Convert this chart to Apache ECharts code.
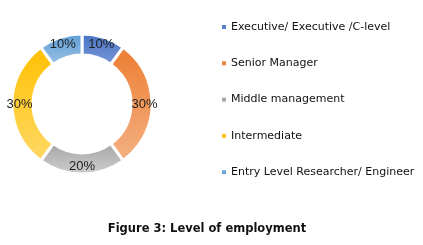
<!DOCTYPE html>
<html><head><meta charset="utf-8">
<script src="https://cdn.jsdelivr.net/npm/echarts@6/dist/echarts.min.js"></script>
<style>html,body{margin:0;padding:0;background:#fff}#c{width:423px;height:245px}</style>
</head><body><div id="c"></div>
<script>
const categories = ["Executive/ Executive /C-level", "Senior Manager", "Middle management", "Intermediate", "Entry Level Researcher/ Engineer"];
const values = [10, 30, 20, 30, 10];
const labels = ["10%", "30%", "20%", "30%", "10%"];
const topColors = ["#4472C4", "#ED7D31", "#A5A5A5", "#FFC000", "#5B9BD5"];
const bottomColors = ["#7C98D8", "#F4B183", "#CFCFCF", "#FFD966", "#9DC3E6"];
const legendColors = ["#5B80CC", "#EE8040", "#A8A8A8", "#FFC21A", "#6FA3DA"];

const chart = echarts.init(document.getElementById('c'));
chart.setOption({
  animation: false,
  title: {
    text: "Figure 3: Level of employment",
    left: 207, top: 223, textAlign: 'center', padding: 0,
    textStyle: {fontFamily: 'DejaVu Sans', fontSize: 11.5, fontWeight: 'bold', color: '#111'}
  },
  legend: {
    orient: 'vertical', left: 222, top: 20, padding: 0,
    itemWidth: 4, itemHeight: 4, itemGap: 22.3, icon: 'rect',
    itemStyle: {borderWidth: 0},
    textStyle: {fontFamily: 'DejaVu Sans', fontSize: 11, color: '#111', lineHeight: 14, padding: [0,0,0,0]},
    data: categories.map((c, i) => ({name: c, itemStyle: {color: legendColors[i], borderWidth: 0}}))
  },
  series: [{
    type: 'pie',
    center: [82, 104],
    radius: [49, 70],
    startAngle: 90,
    clockwise: true,
    avoidLabelOverlap: false,
    itemStyle: {borderColor: '#fff', borderWidth: 3},
    label: {
      show: true, position: 'inside',
      formatter: p => labels[p.dataIndex],
      fontFamily: 'Liberation Sans', fontSize: 13, color: '#222'
    },
    labelLine: {show: false},
    data: categories.map((c, i) => ({
      name: c, value: values[i],
      itemStyle: {color: new echarts.graphic.LinearGradient(0, 0, 0, 1, [
        {offset: 0, color: topColors[i]}, {offset: 1, color: bottomColors[i]}
      ])}
    }))
  }]
});
</script></body></html>
